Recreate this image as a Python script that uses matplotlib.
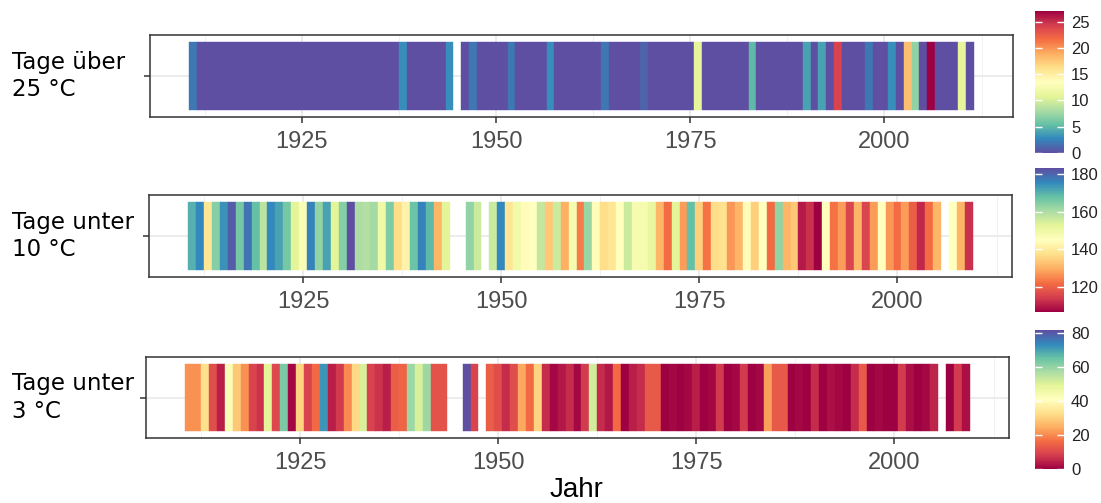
import numpy as np
import matplotlib
matplotlib.use("Agg")
import matplotlib.pyplot as plt
from matplotlib.colors import Normalize
from matplotlib.cm import ScalarMappable
from matplotlib.ticker import MultipleLocator

nan = np.nan

# --- Data: days per year (nan = no data) ---
years_hot = list(range(1911, 2012))
days_over_25 = ([2] + [0] * 26 + [3] + [0] * 5 + [3, nan, 0, 2] + [0] * 4 + [2] + [0] * 4 + [3]
                + [0] * 6 + [2] + [0] * 4 + [1] + [0] * 6 + [11] + [0] * 6 + [5] + [0] * 6
                + [4, 0, 4, 0, 24, 0, 0, 0, 2, 0, 0, 3, 0, 18, 7, 0, 27, 0, 0, 0, 11, 0])

years_cold = list(range(1911, 2010))
days_under_10 = [170, 175, 139, 164, 174, 181, 166, 178, 168, 158,
                 175, 172, 166, 153, 147, 176, 163, 172, 153, 164,
                 183, 160, 159, 161, 150, 165, 137, 142, 167, 176,
                 169, 131, 153, nan, nan, 163, 156, nan, 156, 175,
                 139, 149, 144, 145, 157, 134, 156, 130, 148, 124,
                 162, 144, 137, 139, 145, 156, 148, 148, 151, 131,
                 122, 153, 128, 168, 135, 123, 137, 138, 127, 131,
                 144, 135, 145, 122, 163, 131, 134, 110, 113, 107,
                 145, 123, 128, 116, 131, 116, 128, 145, 127, 122,
                 128, 120, 112, 122, 131, nan, 145, 131, 113]

days_under_3 = [21, 21, 33, 11, 4, 43, 29, 21, 9, 7,
                49, 10, 63, 1, 31, 9, 16, 72, 4, 8,
                20, 32, 51, 9, 7, 4, 14, 15, 59, 51,
                59, 12, 12, nan, nan, 82, 9, nan, 14, 11,
                6, 11, 24, 16, 31, 6, 1, 3, 6, 1,
                8, 52, 6, 3, 16, 0, 4, 6, 13, 13,
                0, 1, 0, 1, 4, 0, 1, 8, 0, 1,
                8, 0, 1, 23, 13, 13, 0, 1, 0, 6,
                0, 2, 1, 0, 6, 13, 0, 1, 0, 0,
                8, 2, 0, 1, 5, nan, 0, 8, 2]

labels = ["Tage über\n25 °C", "Tage unter\n10 °C", "Tage unter\n3 °C"]
cbar_ticks = [[0, 5, 10, 15, 20, 25], [120, 140, 160, 180], [0, 20, 40, 60, 80]]

panels = [
    (years_hot, days_over_25, "Spectral_r"),
    (years_cold, days_under_10, "Spectral"),
    (years_cold, days_under_3, "Spectral"),
]

# --- Layout in pixels (left, right, top, bottom) ---
W, H = 1101, 503
ax_px = [(150, 1013, 35, 117), (149, 1012, 195, 277), (146, 1009, 357, 438)]
cb_px = [(1035, 1064, 11, 153), (1035, 1064, 168, 312), (1035, 1064, 330, 469)]


def frac(box):
    l, r, t, b = box
    return [l / W, 1 - b / H, (r - l) / W, (b - t) / H]


fig = plt.figure(figsize=(W / 100, H / 100), dpi=100)

for i, (yrs, vals, cmap_name) in enumerate(panels):
    yrs = np.array(yrs, dtype=float)
    vals = np.array(vals, dtype=float)
    ok = ~np.isnan(vals)
    cmap = plt.get_cmap(cmap_name)
    norm = Normalize(vmin=np.nanmin(vals), vmax=np.nanmax(vals))

    ax = fig.add_axes(frac(ax_px[i]))
    cols = cmap(norm(vals[ok]))
    ax.bar(yrs[ok], 1.0, bottom=0.5, width=1.0, color=cols,
           edgecolor=cols, linewidth=0.3, zorder=2)

    span = yrs.max() - yrs.min() + 1
    ax.set_xlim(yrs.min() - 0.5 - 0.05 * span, yrs.max() + 0.5 + 0.05 * span)
    ax.set_ylim(0.4, 1.6)
    ax.xaxis.set_major_locator(MultipleLocator(25))
    ax.xaxis.set_minor_locator(MultipleLocator(12.5))
    ax.set_yticks([1])
    ax.set_yticklabels([""])
    ax.grid(True, which="major", color="#ebebeb", linewidth=1.3, zorder=0)
    ax.grid(True, which="minor", axis="x", color="#f2f2f2", linewidth=0.7, zorder=0)
    ax.set_axisbelow(True)
    ax.tick_params(axis="both", which="major", length=4, width=1.1, color="#333333",
                   labelsize=17, labelcolor="#4d4d4d", pad=6)
    ax.tick_params(which="minor", length=0)
    for lab in ax.get_xticklabels():
        lab.set_fontfamily("Liberation Sans")
    for s in ax.spines.values():
        s.set_color("#333333")
        s.set_linewidth(1.1)

    # row label on the left
    fig.text(12 / W, 1 - ((ax_px[i][2] + ax_px[i][3]) / 2) / H, labels[i],
             ha="left", va="center", fontsize=16.5, family="DejaVu Sans",
             linespacing=1.25)

    # colour bar
    cax = fig.add_axes(frac(cb_px[i]))
    cb = fig.colorbar(ScalarMappable(norm=norm, cmap=cmap), cax=cax)
    cb.outline.set_visible(False)
    cb.set_ticks(cbar_ticks[i])
    cax.tick_params(direction="in", length=5, width=1, color="white",
                    left=True, right=True, labelsize=12, labelcolor="#222222", pad=5)
    for lab in cax.get_yticklabels():
        lab.set_fontfamily("Liberation Sans")

fig.text(577 / W, 1 - 490 / H, "Jahr", ha="center", va="center",
         fontsize=20, family="Liberation Sans")

fig.savefig("out.png", dpi=100)
